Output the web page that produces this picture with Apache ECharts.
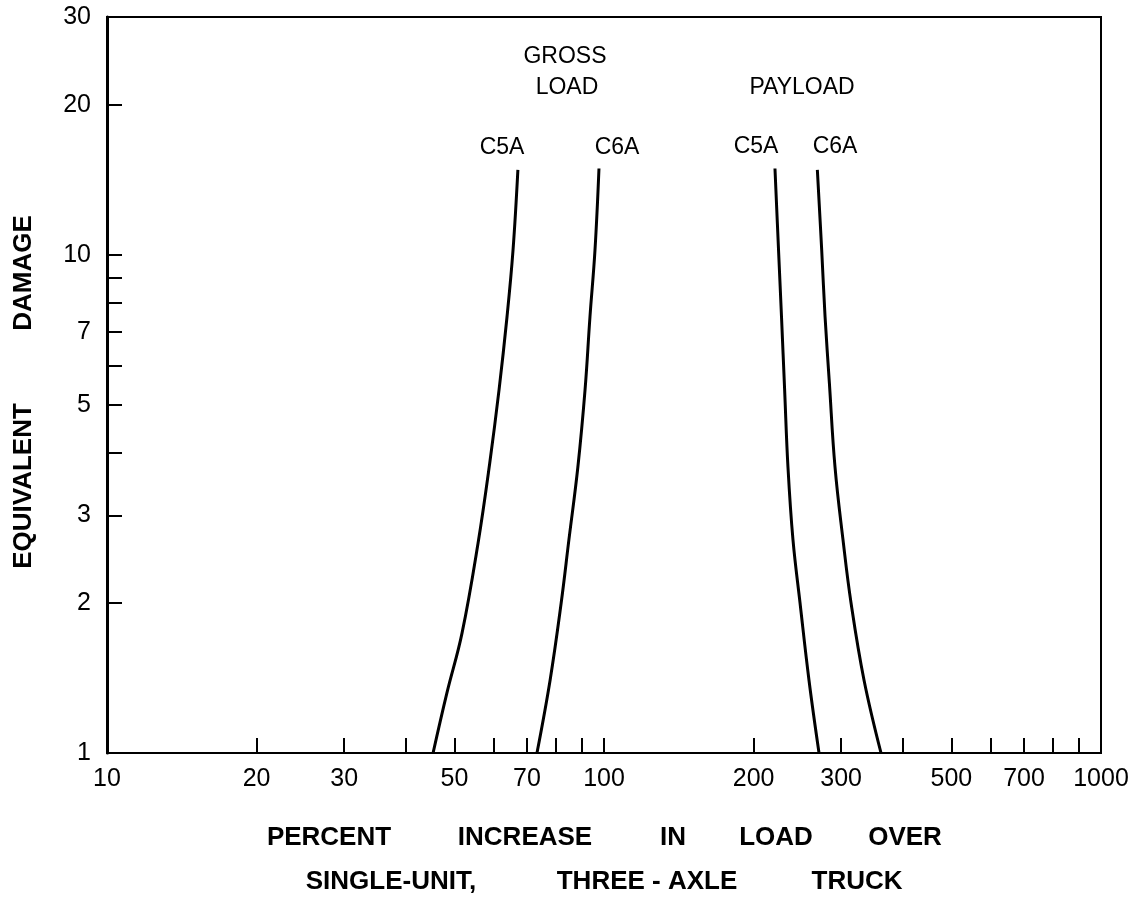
<!DOCTYPE html>
<html>
<head>
<meta charset="utf-8">
<title>Equivalent damage vs percent increase in load</title>
<script src="https://cdn.jsdelivr.net/npm/echarts@6.0.0/dist/echarts.min.js"></script>
<style>
  html, body { margin: 0; padding: 0; background: #fff; }
  #ec { width: 1145px; height: 901px; }
</style>
</head>
<body>
<div id="ec"></div>
<script>
// [percent increase in load, equivalent damage]
var gross_c5a = [[45.3, 1], [48.3, 1.32], [51.8, 1.74], [55.8, 2.64], [58.9, 3.82], [61.5, 5.36], [63.8, 7.5], [65.6, 10.2], [67.1, 14.8]];
var gross_c6a = [[73.3, 1], [77.9, 1.4], [82.0, 2], [85.0, 2.68], [88.6, 3.75], [91.6, 5.36], [93.7, 7.5], [95.9, 10.2], [97.7, 14.9]];
var payload_c5a = [[270.8, 1], [258.5, 1.4], [248, 2], [240, 2.68], [234.5, 3.75], [230.9, 5.36], [227.6, 7.5], [224.5, 10.2], [220.8, 14.9]];
var payload_c6a = [[360.9, 1], [333.6, 1.4], [314.1, 2], [302.6, 2.68], [291.6, 3.75], [284.1, 5.53], [278.5, 7.5], [274.2, 10.2], [268.7, 14.8]];

// 刻度
var x_label_vals = [10, 20, 30, 50, 70, 100, 200, 300, 500, 700, 1000];
var x_tick_vals = [20, 30, 40, 50, 60, 70, 80, 90, 100, 200, 300, 400, 500, 600, 700, 800, 900];
var y_label_vals = [1, 2, 3, 5, 7, 10, 20, 30];
var y_tick_vals = [2, 3, 4, 5, 6, 7, 8, 9, 10, 20];

// 文字
var x_title_1 = ['PERCENT', 'INCREASE', 'IN', 'LOAD', 'OVER'];
var x_title_2 = ['SINGLE-UNIT,', 'THREE - AXLE', 'TRUCK'];
var y_title = ['EQUIVALENT', 'DAMAGE'];
var group_labels = ['GROSS', 'LOAD', 'PAYLOAD'];
var curve_labels = ['C5A', 'C6A', 'C5A', 'C6A'];

var ec = echarts.init(document.getElementById('ec'), null, { renderer: 'canvas' });

var tick_font = { color: '#000', fontFamily: 'Liberation Sans', fontSize: 25 };
var title_font = { fill: '#000', fontFamily: 'Liberation Sans', fontSize: 26, fontWeight: 'bold' };
var note_font = { fill: '#000', fontFamily: 'Liberation Sans', fontSize: 23 };

function curve(data) {
  return {
    type: 'line',
    data: data,
    smooth: 0.4,
    symbol: 'none',
    silent: true,
    lineStyle: { color: '#000', width: 3 }
  };
}

function text(str, x, y, font, rot) {
  return {
    type: 'text',
    x: x,
    y: y,
    rotation: rot || 0,
    style: Object.assign({ text: str, align: 'center', verticalAlign: 'middle' }, font)
  };
}

// 标注文字位置
var graphic = [];
var x1_pos = [329, 525, 673, 776, 905];
x_title_1.forEach(function(s, i) { graphic.push(text(s, x1_pos[i], 838, title_font)); });
var x2_pos = [391, 647, 857];
x_title_2.forEach(function(s, i) { graphic.push(text(s, x2_pos[i], 882, title_font)); });
var y_pos = [486, 273];
y_title.forEach(function(s, i) { graphic.push(text(s, 24, y_pos[i], title_font, Math.PI / 2)); });
graphic.push(text(group_labels[0], 565, 57, note_font));
graphic.push(text(group_labels[1], 567, 88, note_font));
graphic.push(text(group_labels[2], 802, 88, note_font));
var c_pos = [[502, 148], [617, 148], [756, 147], [835, 147]];
curve_labels.forEach(function(s, i) { graphic.push(text(s, c_pos[i][0], c_pos[i][1], note_font)); });

function plain(v) {
  return String(v);
}

var option = {
  backgroundColor: '#fff',
  animation: false,
  grid: {
    left: 107,
    right: 44,
    top: 17,
    bottom: 148,
    show: true,
    borderColor: '#000',
    borderWidth: 2,
    backgroundColor: 'transparent',
    outerBoundsMode: 'none'
  },
  xAxis: {
    type: 'log',
    logBase: 10,
    min: 10,
    max: 1000,
    axisLine: { show: true, lineStyle: { color: '#000', width: 2 } },
    axisTick: { show: true, inside: true, length: 15, customValues: x_tick_vals, lineStyle: { color: '#000', width: 2 } },
    axisLabel: Object.assign({ margin: 14, customValues: x_label_vals, formatter: plain }, tick_font),
    splitLine: { show: false },
    minorTick: { show: false }
  },
  yAxis: {
    type: 'log',
    logBase: 10,
    min: 1,
    max: 30,
    axisLine: { show: true, lineStyle: { color: '#000', width: 3 } },
    axisTick: { show: true, inside: true, length: 15, customValues: y_tick_vals, lineStyle: { color: '#000', width: 2 } },
    axisLabel: Object.assign({ margin: 16, customValues: y_label_vals, formatter: plain }, tick_font),
    splitLine: { show: false },
    minorTick: { show: false }
  },
  series: [curve(gross_c5a), curve(gross_c6a), curve(payload_c5a), curve(payload_c6a)],
  graphic: graphic
};
ec.setOption(option);
</script>
</body>
</html>
